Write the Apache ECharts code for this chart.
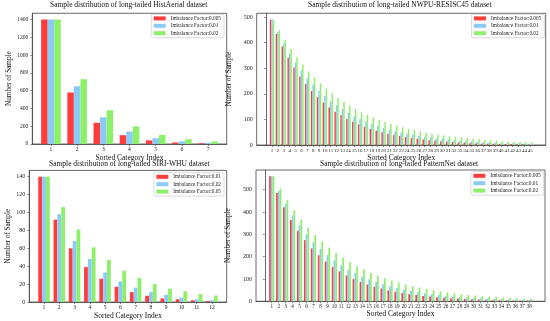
<!DOCTYPE html>
<html><head><meta charset="utf-8">
<script src="https://cdn.jsdelivr.net/npm/echarts@6/dist/echarts.min.js"></script>
<style>html,body{margin:0;padding:0;background:#fff}#c{width:550px;height:321px}</style>
</head><body><div id="c"></div>
<script>
// ---------- data ----------
const histCats = [1,2,3,4,5,6,7];
const hist005 = [1400,579,239,99,41,17,7];
const hist01  = [1400,650,301,140,65,30,14];
const hist02  = [1400,729,380,198,103,54,28];
const histYTicks = [0,200,400,600,800,1000,1200,1400];
const histLegend = ['Imbalance Factor:0.005','Imbalance Factor:0.01','Imbalance Factor:0.02'];

const nwpuCats = [1,2,3,4,5,6,7,8,9,10,11,12,13,14,15,16,17,18,19,20,21,22,23,24,25,26,27,28,29,30,31,32,33,34,35,36,37,38,39,40,41,42,43,44,45];
const nwpu005 = [490,434,385,341,303,268,238,211,187,166,147,130,116,102,91,80,71,63,56,50,44,39,35,31,27,24,21,19,17,15,13,12,10,9,8,7,6,6,5,4,4,4,3,3,2];
const nwpu01  = [490,441,397,358,322,290,261,236,212,191,172,155,140,126,113,102,92,83,74,67,60,54,49,44,40,36,32,29,26,24,21,19,17,15,14,13,11,10,9,8,7,7,6,5,5];
const nwpu02  = [490,448,410,375,343,314,287,263,241,220,201,184,169,154,141,129,118,108,99,90,83,76,69,63,58,53,49,44,41,37,34,31,28,26,24,22,20,18,17,15,14,13,12,11,10];
const nwpuYTicks = [0,100,200,300,400,500];
const nwpuLegend = ['Imbalance Factor:0.005','Imbalance Factor:0.01','Imbalance Factor:0.02'];

const siriCats = [1,2,3,4,5,6,7,8,9,10,11,12];
const siri01 = [140,92,60,39,26,17,11,7,4,3,2,1];
const siri02 = [140,98,68,48,33,23,16,11,8,5,3,2];
const siri05 = [140,106,81,61,47,35,27,20,15,12,9,7];
const siriYTicks = [0,20,40,60,80,100,120,140];
const siriLegend = ['Imbalance Factor:0.01','Imbalance Factor:0.02','Imbalance Factor:0.05'];

const patCats = [1,2,3,4,5,6,7,8,9,10,11,12,13,14,15,16,17,18,19,20,21,22,23,24,25,26,27,28,29,30,31,32,33,34,35,36,37,38];
const pat005 = [560,485,421,364,316,274,237,206,178,154,134,116,100,87,75,65,57,49,43,37,32,28,24,21,18,16,14,12,10,9,8,7,6,5,4,4,3,3];
const pat01  = [560,494,437,385,340,301,265,234,207,183,161,142,126,111,98,87,76,67,60,53,46,41,36,32,28,25,22,19,17,15,13,12,10,9,8,7,6,6];
const pat02  = [560,504,453,408,367,330,297,267,240,216,195,175,157,142,127,115,103,93,84,75,68,61,55,49,44,40,36,32,29,26,23,21,19,17,15,14,12,11];
const patYTicks = [0,100,200,300,400,500];
const patLegend = ['Imbalance Factor:0.005','Imbalance Factor:0.01','Imbalance Factor:0.02'];

const titles = [
  'Sample distribution of long-tailed HistAerial dataset',
  'Sample distribution of long-tailed NWPU-RESISC45 dataset',
  'Sample distribution of long-tailed SIRI-WHU dataset',
  'Sample distribution of long-tailed PatternNet dataset'
];
const xName = 'Sorted Category Index';
const yName = 'Number of Sample';

// ---------- layout / style ----------
const FONT = '"Liberation Serif", "Times New Roman", serif';
const COLORS = ['#ff3d3d', '#8ccbf7', '#8ef06a'];
const FRAME = '#444';

const panels = [
  {key:'hist', cats:histCats, vals:[hist005,hist01,hist02], yt:histYTicks, legend:histLegend, ymax:1470,
   grid:{left:32.3, top:13.3, width:194.4, height:130.7}, title:{left:50, top:1.5}, legendPos:{right:326, top:14.3}, yGap:20, yFont:5.6, xFont:5.6},
  {key:'nwpu', cats:nwpuCats, vals:[nwpu005,nwpu01,nwpu02], yt:nwpuYTicks, legend:nwpuLegend, ymax:514.5,
   grid:{left:256.7, top:13.3, width:289, height:131.7}, title:{left:308, top:1.5}, legendPos:{right:5.7, top:14.3}, yGap:17.5, yFont:6, xFont:5},
  {key:'siri', cats:siriCats, vals:[siri01,siri02,siri05], yt:siriYTicks, legend:siriLegend, ymax:147,
   grid:{left:29.3, top:170.4, width:197.4, height:131.6}, title:{left:49, top:160.5}, legendPos:{right:326, top:172.7}, yGap:17.5, yFont:6, xFont:5.6},
  {key:'pat', cats:patCats, vals:[pat005,pat01,pat02], yt:patYTicks, legend:patLegend, ymax:588,
   grid:{left:256, top:170, width:289, height:131.3}, title:{left:320, top:160.5}, legendPos:{right:6.3, top:171.7}, yGap:17.5, yFont:6, xFont:5.2}
];

const option = {
  animation: false,
  backgroundColor: '#fff',
  title: [], grid: [], xAxis: [], yAxis: [], legend: [], series: []
};

panels.forEach((p, gi) => {
  const n = p.cats.length;
  const m = 0.375 + 0.05 * (n - 0.25);
  option.title.push({
    text: titles[gi], left: p.title.left, top: p.title.top, padding: 0,
    textStyle: {fontFamily: FONT, fontSize: 7.5, fontWeight: 'normal', color: '#111'}
  });
  option.grid.push(Object.assign({show: true, borderColor: FRAME, borderWidth: 0.8, backgroundColor: 'transparent', containLabel: false, outerBoundsMode: 'none'}, p.grid));
  option.xAxis.push({
    type: 'value', gridIndex: gi, min: p.cats[0] - m, max: p.cats[n-1] + m,
    axisLine: {show: true, lineStyle: {color: FRAME, width: 0.8}},
    axisTick: {show: true, customValues: p.cats, length: 2, lineStyle: {color: FRAME, width: 0.6}},
    axisLabel: {customValues: p.cats, formatter: v => String(v), fontFamily: FONT, fontSize: p.xFont, margin: 3, color: '#222'},
    splitLine: {show: false},
    name: xName, nameLocation: 'middle', nameGap: 6,
    nameTextStyle: {fontFamily: FONT, fontSize: 7.5, color: '#111'}
  });
  option.yAxis.push({
    type: 'value', gridIndex: gi, min: 0, max: p.ymax,
    axisLine: {show: true, lineStyle: {color: FRAME, width: 0.8}},
    axisTick: {show: true, customValues: p.yt, length: 2, lineStyle: {color: FRAME, width: 0.6}},
    axisLabel: {customValues: p.yt, formatter: v => String(v), fontFamily: FONT, fontSize: p.yFont, margin: 4, color: '#222'},
    splitLine: {show: false},
    name: yName, nameLocation: 'middle', nameGap: p.yGap,
    nameTextStyle: {fontFamily: FONT, fontSize: 7.2, color: '#111'}
  });
  const names = p.legend.map(l => p.key + '|' + l);
  option.legend.push({
    data: names, orient: 'vertical', right: p.legendPos.right, top: p.legendPos.top,
    icon: 'rect', itemWidth: 12, itemHeight: 4, itemGap: 2.4,
    padding: [1.6, 3, 2, 2.5],
    borderColor: '#cccccc', borderWidth: 0.7, borderRadius: 1.5, backgroundColor: 'rgba(255,255,255,0.8)',
    formatter: nm => nm.split('|')[1],
    textStyle: {fontFamily: FONT, fontSize: 5.3, color: '#222', lineHeight: 5}
  });
  p.vals.forEach((vals, si) => {
    option.series.push({
      type: 'bar', name: names[si], xAxisIndex: gi, yAxisIndex: gi,
      barWidth: '25%', barGap: '0%',
      itemStyle: {color: COLORS[si]},
      data: p.cats.map((c, i) => [c, vals[i]])
    });
  });
});

const chart = echarts.init(document.getElementById('c'), null, {renderer: 'canvas'});
chart.setOption(option);
</script>
</body></html>
